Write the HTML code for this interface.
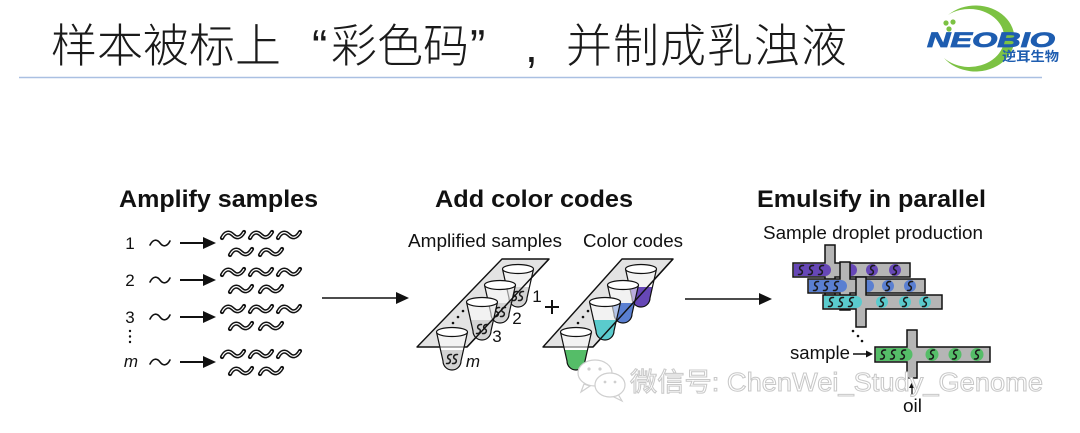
<!DOCTYPE html>
<html><head><meta charset="utf-8"><style>
html,body{margin:0;padding:0;background:#fff;width:1080px;height:433px;overflow:hidden}
svg{display:block}
</style></head><body>
<svg width="1080" height="433" viewBox="0 0 1080 433" xmlns="http://www.w3.org/2000/svg" xmlns:xlink="http://www.w3.org/1999/xlink">
<defs>
<g id="sq"><path d="M0,3 C3,-3 7,-4 11,0 C14,3 18,4 22,-3" stroke="#111" stroke-width="4.2" fill="none" stroke-linecap="round"/><path d="M0,3 C3,-3 7,-4 11,0 C14,3 18,4 22,-3" stroke="#fff" stroke-width="1.2" fill="none"/></g>
<path id="s" d="M2.5,-4.5 C-1.5,-5 -2.5,-1 0,0 C2.5,1 1.5,5 -2.5,4.5" stroke="#1a1a1a" stroke-width="1.5" fill="none" stroke-linecap="round"/>
<path id="tb" d="M-15.5,0 L-9,29 A9,9 0 0 0 9,29 L15.5,0 Z"/>
<path id="lq" d="M-11.5,18 L-9,29 A9,9 0 0 0 9,29 L11.5,18 Z"/>
<path id="to" d="M-15.5,0 L-9,29 A9,9 0 0 0 9,29 L15.5,0" fill="none" stroke="#111" stroke-width="1.2"/>
</defs>

<!-- Title -->
<g font-family="'Liberation Sans','Noto Sans CJK SC',sans-serif" font-size="46" fill="#1a1a1a" font-weight="300">
<text x="51" y="62">样本被标上</text>
<text x="312" y="62">“</text>
<text x="331" y="62">彩色码</text>
<text x="470" y="62">”</text>
<text x="525" y="62">,</text>
<text x="566" y="62" letter-spacing="1">并制成乳浊液</text>
</g>
<line x1="19" y1="77.5" x2="1042" y2="77.5" stroke="#aac0e2" stroke-width="1.5"/>

<!-- Logo -->
<path d="M948,15 A39,33 0 1 1 944,58 A35,29 0 1 0 948,15 Z" fill="#7cc243"/>
<circle cx="946" cy="23" r="2.6" fill="#7cc243"/><circle cx="953" cy="22" r="2.6" fill="#7cc243"/><circle cx="949" cy="29" r="2.6" fill="#7cc243"/>
<text x="927" y="47" font-family="'Liberation Sans',sans-serif" font-weight="bold" font-style="italic" font-size="21" fill="#1e5db0" stroke="#1e5db0" stroke-width="0.8" textLength="128" lengthAdjust="spacingAndGlyphs">NEOBIO</text>
<text x="1002" y="61" font-family="'Liberation Sans','Noto Sans CJK SC',sans-serif" font-weight="bold" font-size="13" fill="#1e5db0" textLength="57" lengthAdjust="spacingAndGlyphs">逆耳生物</text>

<!-- Headings -->
<g font-family="'Liberation Sans',Arial,sans-serif" font-weight="bold" font-size="24" fill="#111">
<text x="119" y="207" textLength="199" lengthAdjust="spacingAndGlyphs">Amplify samples</text>
<text x="435" y="207" textLength="198" lengthAdjust="spacingAndGlyphs">Add color codes</text>
<text x="757" y="207" textLength="229" lengthAdjust="spacingAndGlyphs">Emulsify in parallel</text>
</g>

<!-- Left section -->
<g font-family="'Liberation Sans',Arial,sans-serif" font-size="17" fill="#111" text-anchor="middle">
<text x="130" y="249">1</text>
<text x="130" y="286">2</text>
<text x="130" y="323">3</text>
<text x="131" y="367" font-style="italic">m</text>
</g>
<circle cx="130" cy="331" r="1.2" fill="#111"/><circle cx="130" cy="336.5" r="1.2" fill="#111"/><circle cx="130" cy="342" r="1.2" fill="#111"/>
<g stroke="#111" stroke-width="1.6" fill="none" stroke-linecap="round">
<path d="M150,245 C153,239 157,239 160,243 C163,247 167,247 170,241"/>
<path d="M150,282 C153,276 157,276 160,280 C163,284 167,284 170,278"/>
<path d="M150,319 C153,313 157,313 160,317 C163,321 167,321 170,315"/>
<path d="M150,364 C153,358 157,358 160,362 C163,366 167,366 170,360"/>
</g>
<g stroke="#111" stroke-width="2">
<line x1="180" y1="243" x2="206" y2="243"/><line x1="180" y1="280" x2="206" y2="280"/><line x1="180" y1="317" x2="206" y2="317"/><line x1="180" y1="362" x2="206" y2="362"/>
</g>
<g fill="#111">
<polygon points="203,237 216,243 203,249"/><polygon points="203,274 216,280 203,286"/><polygon points="203,311 216,317 203,323"/><polygon points="203,356 216,362 203,368"/>
</g>
<use xlink:href="#sq" x="222" y="235"/><use xlink:href="#sq" x="250" y="235"/><use xlink:href="#sq" x="278" y="235"/><use xlink:href="#sq" x="230" y="252"/><use xlink:href="#sq" x="260" y="252"/>
<use xlink:href="#sq" x="222" y="272"/><use xlink:href="#sq" x="250" y="272"/><use xlink:href="#sq" x="278" y="272"/><use xlink:href="#sq" x="230" y="289"/><use xlink:href="#sq" x="260" y="289"/>
<use xlink:href="#sq" x="222" y="309"/><use xlink:href="#sq" x="250" y="309"/><use xlink:href="#sq" x="278" y="309"/><use xlink:href="#sq" x="230" y="326"/><use xlink:href="#sq" x="260" y="326"/>
<use xlink:href="#sq" x="222" y="354"/><use xlink:href="#sq" x="250" y="354"/><use xlink:href="#sq" x="278" y="354"/><use xlink:href="#sq" x="230" y="371"/><use xlink:href="#sq" x="260" y="371"/>

<!-- Big arrows -->
<line x1="322" y1="298" x2="400" y2="298" stroke="#111" stroke-width="1.5"/>
<polygon points="396,292 409,298 396,304" fill="#111"/>
<line x1="685" y1="299" x2="763" y2="299" stroke="#111" stroke-width="1.5"/>
<polygon points="759,293 772,299 759,305" fill="#111"/>

<!-- Middle labels -->
<g font-family="'Liberation Sans',Arial,sans-serif" font-size="18.5" fill="#111">
<text x="408" y="247" textLength="154" lengthAdjust="spacingAndGlyphs">Amplified samples</text>
<text x="583" y="247" textLength="100" lengthAdjust="spacingAndGlyphs">Color codes</text>
<text x="763" y="239" textLength="220" lengthAdjust="spacingAndGlyphs">Sample droplet production</text>
</g>

<!-- Left plate -->
<polygon points="502,259 549,259 467,347 417,347" fill="#e3e3e3" stroke="#111" stroke-width="1.4" stroke-linejoin="round"/>
<g transform="translate(518,269)"><use xlink:href="#tb" fill="#fff" fill-opacity=".55"/><use xlink:href="#lq" fill="#d3d3d3"/><use xlink:href="#s" x="-3" y="27"/><use xlink:href="#s" x="3" y="27"/><use xlink:href="#to"/><ellipse rx="15.5" ry="4.5" fill="#fff" stroke="#111" stroke-width="1.2"/></g>
<g transform="translate(500,285)"><use xlink:href="#tb" fill="#fff" fill-opacity=".55"/><use xlink:href="#lq" fill="#d3d3d3"/><use xlink:href="#s" x="-3" y="27"/><use xlink:href="#s" x="3" y="27"/><use xlink:href="#to"/><ellipse rx="15.5" ry="4.5" fill="#fff" stroke="#111" stroke-width="1.2"/></g>
<g transform="translate(482,302)"><use xlink:href="#tb" fill="#fff" fill-opacity=".55"/><use xlink:href="#lq" fill="#d3d3d3"/><use xlink:href="#s" x="-3" y="27"/><use xlink:href="#s" x="3" y="27"/><use xlink:href="#to"/><ellipse rx="15.5" ry="4.5" fill="#fff" stroke="#111" stroke-width="1.2"/></g>
<g transform="translate(452,332)"><use xlink:href="#tb" fill="#fff" fill-opacity=".55"/><use xlink:href="#lq" fill="#d3d3d3"/><use xlink:href="#s" x="-3" y="27"/><use xlink:href="#s" x="3" y="27"/><use xlink:href="#to"/><ellipse rx="15.5" ry="4.5" fill="#fff" stroke="#111" stroke-width="1.2"/></g>
<line x1="467" y1="347" x2="549" y2="259" stroke="#111" stroke-width="1.4"/>
<circle cx="453" cy="323" r="1.3" fill="#111"/><circle cx="458" cy="317" r="1.3" fill="#111"/><circle cx="463" cy="311" r="1.3" fill="#111"/>
<g font-family="'Liberation Sans',Arial,sans-serif" font-size="17" fill="#111" text-anchor="middle">
<text x="537" y="302">1</text><text x="517" y="324">2</text><text x="497" y="342">3</text><text x="473" y="367" font-style="italic">m</text>
</g>
<line x1="545" y1="307" x2="559" y2="307" stroke="#111" stroke-width="2"/><line x1="552" y1="300" x2="552" y2="314" stroke="#111" stroke-width="2"/>

<!-- Right plate -->
<polygon points="622,259 673,259 593,347 543,347" fill="#e3e3e3" stroke="#111" stroke-width="1.4" stroke-linejoin="round"/>
<g transform="translate(641,269)"><use xlink:href="#tb" fill="#fff" fill-opacity=".55"/><use xlink:href="#lq" fill="#6647b6"/><use xlink:href="#to"/><ellipse rx="15.5" ry="4.5" fill="#fff" stroke="#111" stroke-width="1.2"/></g>
<g transform="translate(623,285)"><use xlink:href="#tb" fill="#fff" fill-opacity=".55"/><use xlink:href="#lq" fill="#5a7fd1"/><use xlink:href="#to"/><ellipse rx="15.5" ry="4.5" fill="#fff" stroke="#111" stroke-width="1.2"/></g>
<g transform="translate(605,302)"><use xlink:href="#tb" fill="#fff" fill-opacity=".55"/><use xlink:href="#lq" fill="#5acbcd"/><use xlink:href="#to"/><ellipse rx="15.5" ry="4.5" fill="#fff" stroke="#111" stroke-width="1.2"/></g>
<g transform="translate(576,332)"><use xlink:href="#tb" fill="#fff" fill-opacity=".55"/><use xlink:href="#lq" fill="#55bd68"/><use xlink:href="#to"/><ellipse rx="15.5" ry="4.5" fill="#fff" stroke="#111" stroke-width="1.2"/></g>
<line x1="593" y1="347" x2="673" y2="259" stroke="#111" stroke-width="1.4"/>
<circle cx="578" cy="323" r="1.3" fill="#111"/><circle cx="583" cy="317" r="1.3" fill="#111"/><circle cx="588" cy="311" r="1.3" fill="#111"/>

<!-- Droplet production -->
<polygon points="793,263 825,263 825,245 835,245 835,263 910,263 910,277 835,277 835,296 825,296 825,277 793,277" fill="#b5b5b5" stroke="#111" stroke-width="1.5"/>
<path d="M794,264 H825 A6,6 0 0 1 825,276 H794 Z" fill="#6647b6"/>
<circle cx="851" cy="270" r="6" fill="#6647b6"/><circle cx="872" cy="270" r="6" fill="#6647b6"/><circle cx="895" cy="270" r="6" fill="#6647b6"/>
<use xlink:href="#s" x="801" y="270"/><use xlink:href="#s" x="811" y="270"/><use xlink:href="#s" x="821" y="270"/><use xlink:href="#s" x="872" y="270"/><use xlink:href="#s" x="895" y="270"/>

<polygon points="808,279 840,279 840,262 850,262 850,279 925,279 925,293 850,293 850,310 840,310 840,293 808,293" fill="#b5b5b5" stroke="#111" stroke-width="1.5"/>
<path d="M809,280 H841 A6,6 0 0 1 841,292 H809 Z" fill="#5a7fd1"/>
<circle cx="868" cy="286" r="6" fill="#5a7fd1"/><circle cx="888" cy="286" r="6" fill="#5a7fd1"/><circle cx="910" cy="286" r="6" fill="#5a7fd1"/>
<use xlink:href="#s" x="816" y="286"/><use xlink:href="#s" x="826" y="286"/><use xlink:href="#s" x="836" y="286"/><use xlink:href="#s" x="888" y="286"/><use xlink:href="#s" x="910" y="286"/>

<polygon points="823,295 856,295 856,277 866,277 866,295 942,295 942,309 866,309 866,327 856,327 856,309 823,309" fill="#b5b5b5" stroke="#111" stroke-width="1.5"/>
<path d="M824,296 H856 A6,6 0 0 1 856,308 H824 Z" fill="#5acbcd"/>
<circle cx="882" cy="302" r="6" fill="#5acbcd"/><circle cx="905" cy="302" r="6" fill="#5acbcd"/><circle cx="925" cy="302" r="6" fill="#5acbcd"/>
<use xlink:href="#s" x="831" y="302"/><use xlink:href="#s" x="841" y="302"/><use xlink:href="#s" x="851" y="302"/><use xlink:href="#s" x="882" y="302"/><use xlink:href="#s" x="905" y="302"/><use xlink:href="#s" x="925" y="302"/>

<circle cx="853" cy="331" r="1.3" fill="#111"/><circle cx="858" cy="336" r="1.3" fill="#111"/><circle cx="862" cy="341" r="1.3" fill="#111"/>

<polygon points="875,347 907,347 907,330 917,330 917,347 990,347 990,362 917,362 917,378 907,378 907,362 875,362" fill="#b5b5b5" stroke="#111" stroke-width="1.5"/>
<path d="M876,348 H906 A6.5,6.5 0 0 1 906,361 H876 Z" fill="#55bd68"/>
<circle cx="932" cy="354.5" r="6.5" fill="#55bd68"/><circle cx="955" cy="354.5" r="6.5" fill="#55bd68"/><circle cx="977" cy="354.5" r="6.5" fill="#55bd68"/>
<use xlink:href="#s" x="883" y="354.5"/><use xlink:href="#s" x="893" y="354.5"/><use xlink:href="#s" x="903" y="354.5"/><use xlink:href="#s" x="932" y="354.5"/><use xlink:href="#s" x="955" y="354.5"/><use xlink:href="#s" x="977" y="354.5"/>

<g font-family="'Liberation Sans',Arial,sans-serif" font-size="18" fill="#111">
<text x="790" y="359" textLength="60" lengthAdjust="spacingAndGlyphs">sample</text>
<text x="903" y="412" textLength="19" lengthAdjust="spacingAndGlyphs">oil</text>
</g>
<line x1="853" y1="354" x2="868" y2="354" stroke="#111" stroke-width="1.5"/>
<polygon points="866,350.5 873,354 866,357.5" fill="#111"/>
<line x1="912" y1="395" x2="912" y2="386" stroke="#111" stroke-width="1.3"/>
<polygon points="909,388 912,382 915,388" fill="#111"/>

<!-- Watermark -->
<g fill="#fff" stroke="#cfcfcf" stroke-width="1.2">
<path d="M584,384 L581,392 L590,386 Z"/>
<ellipse cx="595" cy="373" rx="17" ry="13"/>
<path d="M618,394 L622,401 L612,396 Z"/>
<ellipse cx="610" cy="385" rx="15" ry="12"/>
</g>
<g fill="#cfcfcf"><circle cx="589" cy="369" r="1.6"/><circle cx="600" cy="369" r="1.6"/><circle cx="605" cy="382" r="1.4"/><circle cx="615" cy="382" r="1.4"/></g>
<text x="630" y="391" font-family="'Liberation Sans','Noto Sans CJK SC',sans-serif" font-size="26" fill="#fff" stroke="#c8c8c8" stroke-width="1" textLength="413" lengthAdjust="spacingAndGlyphs">微信号: ChenWei_Study_Genome</text>
</svg>
</body></html>
